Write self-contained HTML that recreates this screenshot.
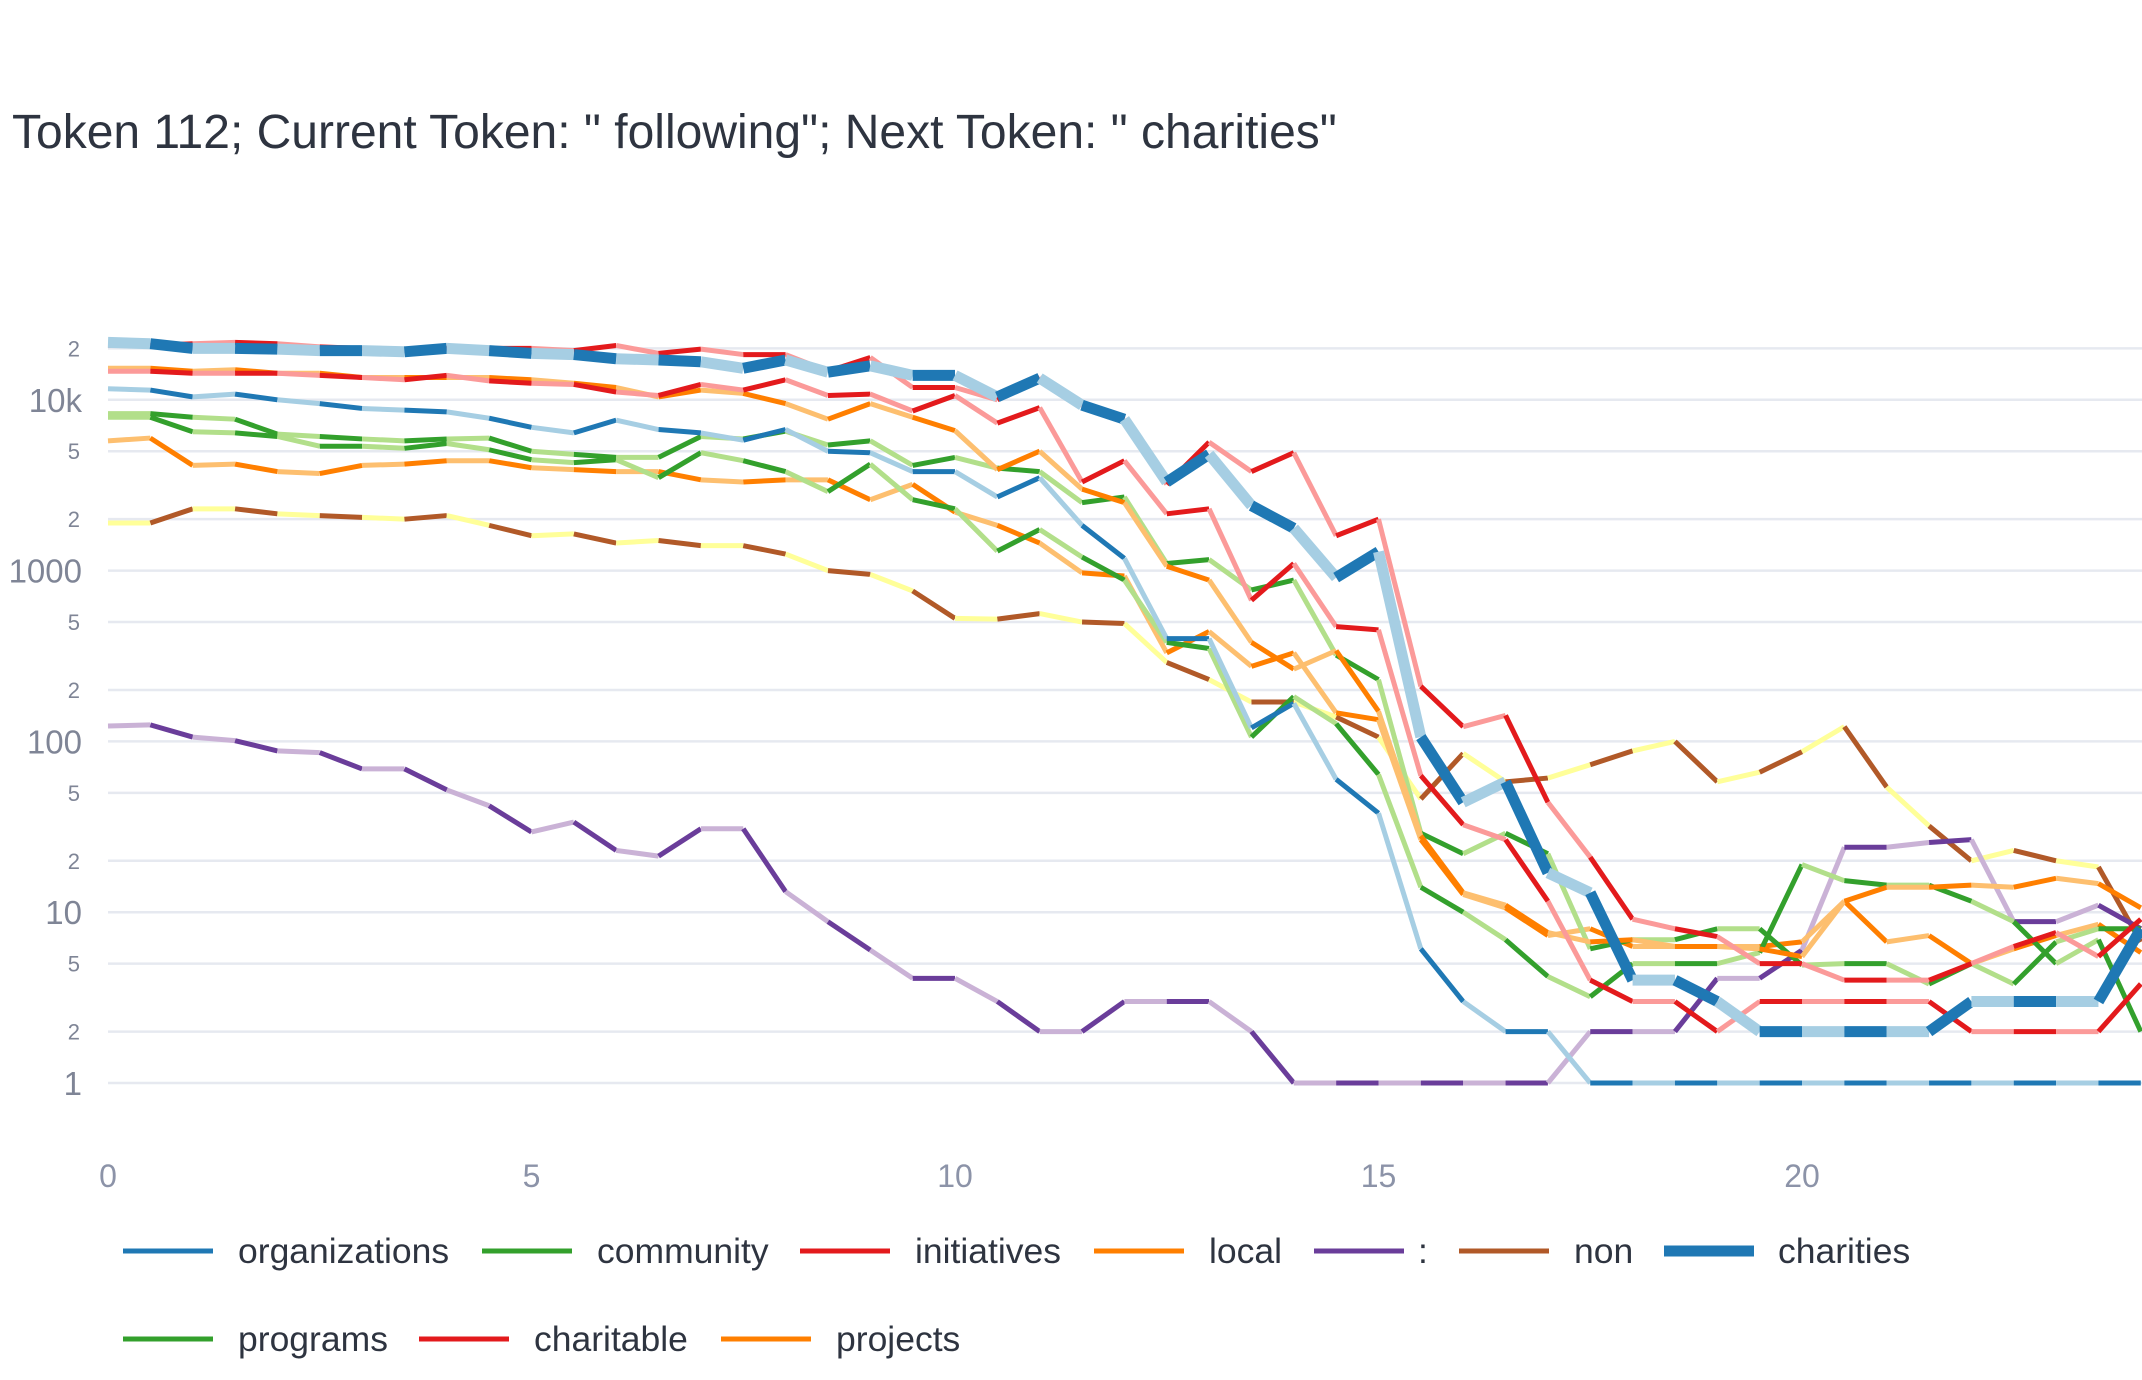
<!DOCTYPE html>
<html><head><meta charset="utf-8"><style>
html,body{margin:0;padding:0;background:#fff;}
svg{display:block;font-family:"Liberation Sans",Arial,sans-serif;}
</style></head><body>
<svg id="chart" width="2142" height="1380" viewBox="0 0 2142 1380" xmlns="http://www.w3.org/2000/svg">
<text x="12" y="148" font-size="48" fill="#2e3440">Token 112; Current Token: " following"; Next Token: " charities"</text>
<g id="grid"></g>
<g id="yticks"></g>
<g id="xticks"></g>
<g id="series"></g>
<g id="legend"></g>
</svg>
<script>
const xStep = 0.5;
const organizations = [11600,11400,10400,10800,10000,9500,8900,8700,8500,7800,6900,6400,7600,6700,6400,5800,6700,5000,4900,3800,3800,2700,3500,1840,1180,400,400,120,167,60,38,6.1,3,2,2,1,1,1,1,1,1,1,1,1,1,1,1,1,1];
const community = [8300,8300,7900,7700,6300,6100,5900,5750,5900,5970,5000,4790,4600,4600,6100,5900,6550,5440,5750,4130,4600,3980,3800,2500,2700,1100,1160,770,880,320,230,29,22,29,22,6.1,6.9,6.9,8,8,4.9,5,5,3.8,5,3.8,6.7,8,8];
const initiatives = [20800,20800,21300,21700,21300,20400,20000,19400,20000,20000,20000,19400,20800,18700,19800,18400,18400,14700,17700,11800,11800,10000,13500,9300,7700,3200,5650,3800,4900,1600,2000,210,122,142,44,21,9.1,8,7.2,5,5,4,4,4,5,6.3,7.6,5.5,9.1];
const local = [15300,15300,14700,15000,14300,14300,13500,13500,13500,13500,13100,12500,11800,10400,11400,10900,9500,7700,9500,7900,6600,3900,5000,3000,2500,1060,880,380,265,340,150,28,13,11,7.6,6.7,6.9,6.3,6.3,6.1,5.5,11.6,14,14,14.4,14,15.8,14.7,10.6];
const colon = [123,125,106,101,88,86,69,69,52,42,29.5,33.7,23,21.3,30.8,30.8,13.2,8.8,6,4.1,4.1,3,2,2,3,3,3,2,1,1,1,1,1,1,1,2,2,2,4.1,4.1,6,24,24,25.6,26.6,8.8,8.8,11,8];
const nonTok = [1900,1900,2300,2300,2150,2100,2050,2000,2100,1840,1600,1640,1450,1500,1400,1400,1250,1000,950,760,525,520,560,500,490,290,230,170,170,139,106,46,85,58,61,73,88,100,58,66,87,122,54,32,20,23,20,18.4,6.7];
const charities = [21700,21300,20000,20000,19800,19400,19400,19100,20000,19400,18700,18400,17400,17100,16700,15300,17100,14500,15800,13900,13900,10400,13400,9300,7700,3300,4800,2400,1770,910,1290,106,44,58,17,13,4,4,3,2,2,2,2,2,3,3,3,3,8];
const programs = [7900,7900,6500,6400,6100,5350,5350,5200,5550,5100,4460,4290,4460,3500,4900,4400,3800,2900,4200,2600,2300,1300,1740,1200,880,380,350,106,183,127,64,14,10,6.9,4.2,3.2,5,5,5,5.8,19,15.3,14.4,14.4,11.6,8.8,5,6.9,2];
const charitable = [14700,14700,14300,14300,14300,13900,13500,13100,13900,12900,12500,12300,11100,10600,12300,11400,13100,10600,10800,8600,10600,7300,9000,3300,4400,2150,2300,670,1100,470,450,63,32.5,26.6,11.6,4,3,3,2,3,3,3,3,3,2,2,2,2,3.8];
const projects = [5750,5970,4130,4200,3800,3700,4130,4200,4400,4400,4000,3900,3800,3800,3400,3300,3400,3400,2600,3200,2200,1840,1450,970,930,330,440,275,330,147,134,26.6,12.7,10.6,7.3,8,6.3,6.3,6.3,6.3,6.7,11.6,6.7,7.3,5,6.1,7.3,8.5,5.8];
const seriesNames = ["organizations","community","initiatives","local",":","non","charities","programs","charitable","projects"];
const xTicks = [0,5,10,15,20];
const yGrid = [1,2,5,10,20,50,100,200,500,1000,2000,5000,10000,20000];
const yLabels = ["1","2","5","10","2","5","100","2","5","1000","2","5","10k","2"];

const NS = "http://www.w3.org/2000/svg";
const X0 = 108, XU = 84.7, Y1 = 1083, YD = 170.8;
function sx(v){ return X0 + v*XU; }
function sy(v){ return Y1 - Math.log10(v)*YD; }
function mk(tag, attrs, parent){
  const e = document.createElementNS(NS, tag);
  for (const k in attrs) e.setAttribute(k, attrs[k]);
  parent.appendChild(e); return e;
}
const grid = document.getElementById('grid');
const yt = document.getElementById('yticks');
yGrid.forEach((v,i)=>{
  const l = mk('line',{x1:108,x2:2142,y1:sy(v),y2:sy(v),stroke:'#e6e9f0','stroke-width':2.5},grid);
  
  
  const major = (i%3===0);
  const t = mk('text',{x:major?82:80,y:sy(v)+(major?12:8),'text-anchor':'end','font-size':major?33:22,fill:'#7f8596'},yt);
  t.textContent = yLabels[i];
  
  
});
const xt = document.getElementById('xticks');
xTicks.forEach(v=>{
  const t = mk('text',{x:sx(v),y:1187,'text-anchor':'middle','font-size':32,fill:'#8c93a8'},xt);
  t.textContent = String(v);
  
  
});
const data = [organizations,community,initiatives,local,colon,nonTok,charities,programs,charitable,projects];
const colors = [["#1f78b4","#a6cee3"],["#33a02c","#b2df8a"],["#e31a1c","#fb9a99"],["#ff7f00","#fdbf6f"],["#6a3d9a","#cab2d6"],["#b15928","#ffff99"],["#1f78b4","#a6cee3"],["#33a02c","#b2df8a"],["#e31a1c","#fb9a99"],["#ff7f00","#fdbf6f"]];
const widths = [5,5,5,5,5,5,11,5,5,5];
const sg = document.getElementById('series');
const drawOrder = [5,4,9,7,1,3,0,8,2,6];
drawOrder.forEach(si=>{
  const arr = data[si];
  const g = mk('g',{},sg);
  
  
  for (let i=0;i<arr.length-1;i++){
    const seg = mk('line',{x1:sx(i*xStep),y1:sy(arr[i]),x2:sx((i+1)*xStep),y2:sy(arr[i+1]),stroke:colors[si][i%2===0?1:0],'stroke-width':widths[si],'stroke-linecap':'butt'},g);
    
    
  }
});
const lg = document.getElementById('legend');
const legPos = [[123,238,1251],[482,597,1251],[800,915,1251],[1094,1209,1251],[1314,1418,1251],[1459,1574,1251],[1664,1778,1251],[123,238,1339],[419,534,1339],[721,836,1339]];
seriesNames.forEach((n,i)=>{
  const g = mk('g',{},lg);
  
  
  const p = legPos[i];
  mk('line',{x1:p[0],x2:p[0]+90,y1:p[2],y2:p[2],stroke:colors[i][0],'stroke-width':widths[i]},g);
  const t = mk('text',{x:p[1],y:p[2]+12,'font-size':35.5,fill:'#2e3440'},g);
  t.textContent = n;
});
</script>
</body></html>
